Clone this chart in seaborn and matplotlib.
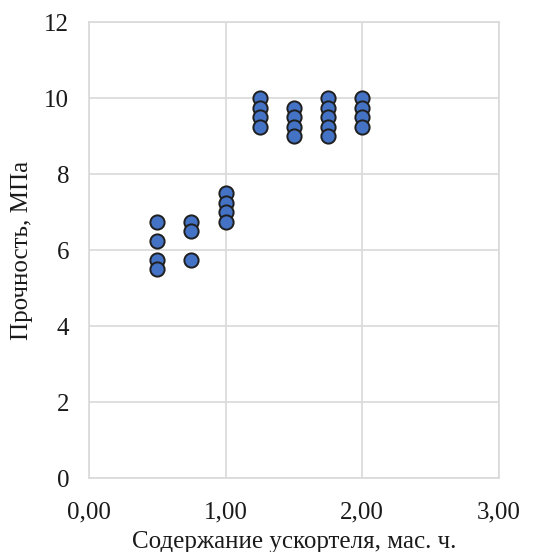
import pandas as pd
import seaborn as sns
import matplotlib.pyplot as plt

# содержание ускорителя, мас. ч. и прочность, МПа
soderzhanie = [0.5, 0.5, 0.5, 0.5,
               0.75, 0.75, 0.75,
               1.0, 1.0, 1.0, 1.0,
               1.25, 1.25, 1.25, 1.25,
               1.5, 1.5, 1.5, 1.5,
               1.75, 1.75, 1.75, 1.75, 1.75,
               2.0, 2.0, 2.0, 2.0]
prochnost = [6.75, 6.25, 5.75, 5.5,
             6.75, 6.5, 5.75,
             7.5, 7.25, 7.0, 6.75,
             10.0, 9.75, 9.5, 9.25,
             9.75, 9.5, 9.25, 9.0,
             10.0, 9.75, 9.5, 9.25, 9.0,
             10.0, 9.75, 9.5, 9.25]
x_ticks = [0, 1, 2, 3]
x_labels = ['0,00', '1,00', '2,00', '3,00']
y_ticks = [0, 2, 4, 6, 8, 10, 12]


def wykres(df):
    sns.set_style("white")
    plt.rcParams['font.family'] = ['Liberation Serif', 'DejaVu Serif']

    fig = plt.figure(figsize=(5.55, 5.52), dpi=100)
    ax = fig.add_axes([0.160, 0.134, 0.739, 0.826])

    sns.scatterplot(data=df, x='x', y='y', ax=ax, s=105, color='#4472C4',
                    edgecolor='#1f1f1f', linewidth=1.4, zorder=3, legend=False)

    ax.set_xlim(0, 3)
    ax.set_ylim(0, 12)
    ax.set_xticks(x_ticks)
    ax.set_xticklabels(x_labels)
    ax.set_yticks(y_ticks)
    ax.grid(True, color='#d9d9d9', linewidth=1.2, zorder=0)
    for s in ax.spines.values():
        s.set_color('#d9d9d9')
        s.set_linewidth(1.2)
    ax.tick_params(axis='both', length=0, labelsize=18, colors='#1a1a1a')
    ax.tick_params(axis='x', pad=17)
    ax.tick_params(axis='y', pad=14)

    ax.set_xlabel('Содержание ускортеля, мас. ч.', fontsize=18, color='#1a1a1a', labelpad=5)
    ax.set_ylabel('Прочность, МПа', fontsize=18, color='#1a1a1a', labelpad=8)

    fig.savefig('out.png', dpi=100)


if __name__ == "__main__":
    dane = pd.DataFrame({'x': soderzhanie, 'y': prochnost})
    wykres(dane)
